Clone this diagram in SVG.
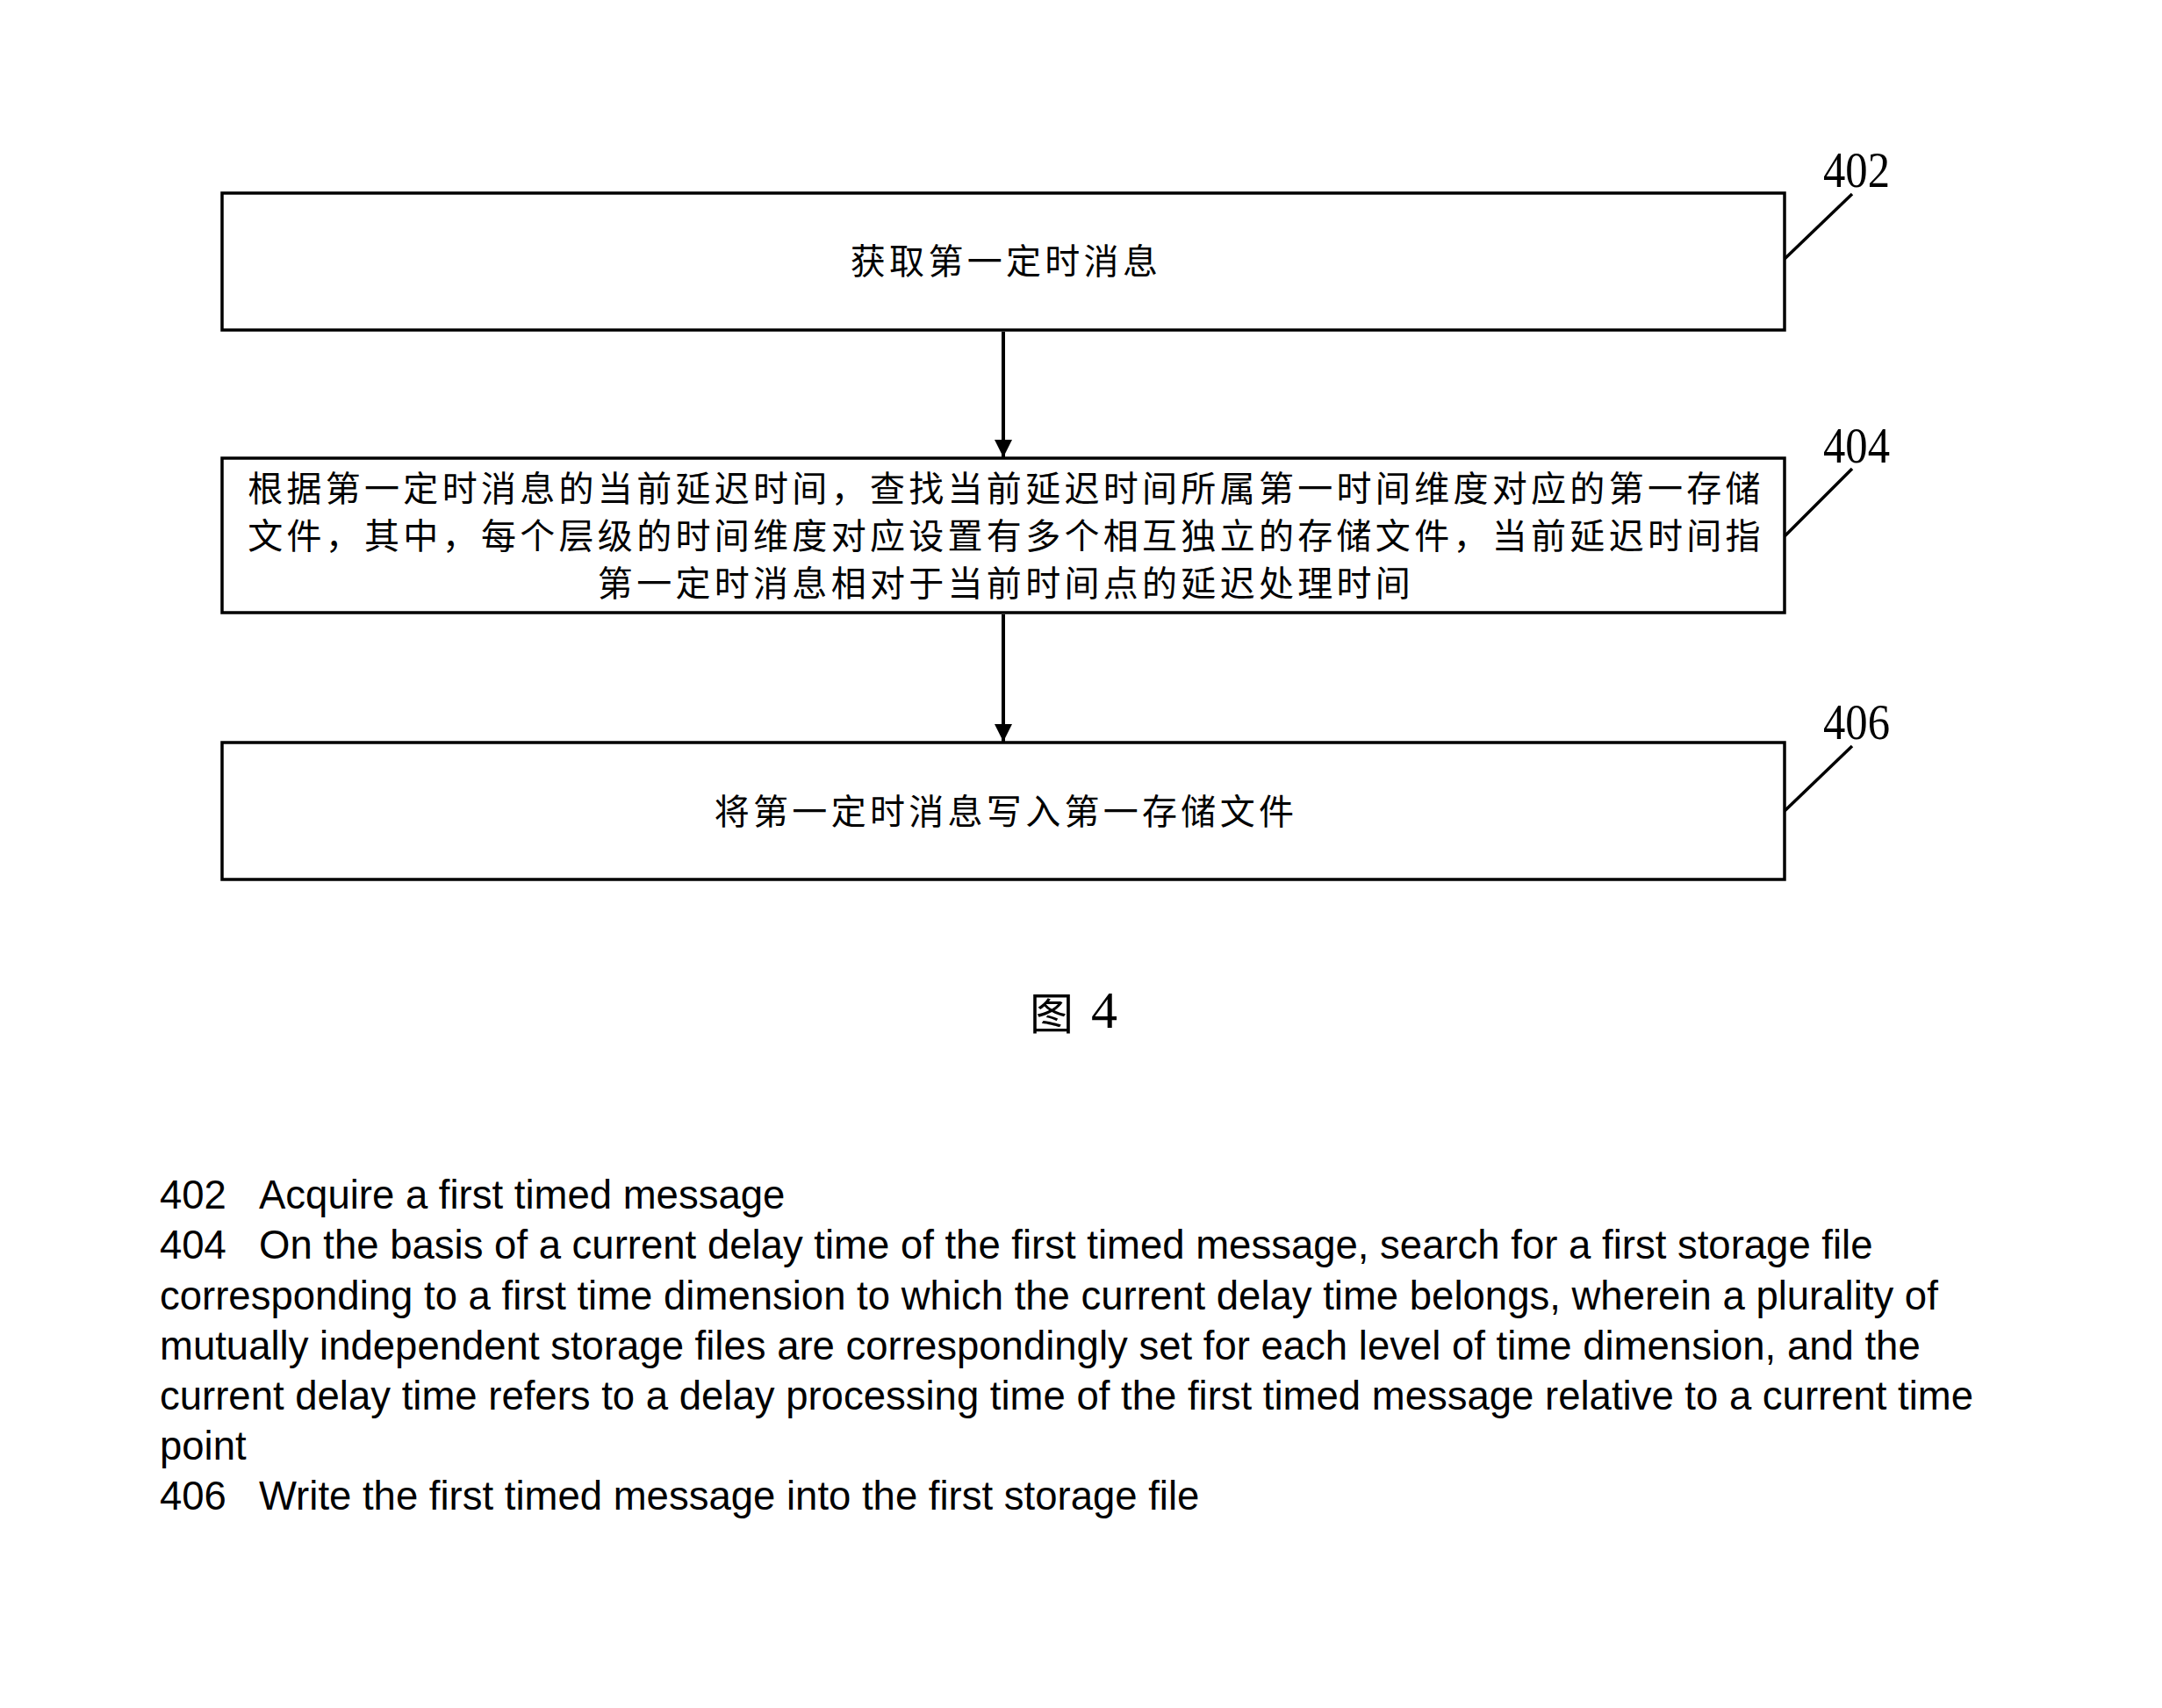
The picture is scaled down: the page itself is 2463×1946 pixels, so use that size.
<svg xmlns="http://www.w3.org/2000/svg" width="2463" height="1946" viewBox="0 0 2463 1946">
<defs>
<style>
.box{fill:#fff;stroke:#000;stroke-width:3.5}
.cjk{font-family:"Noto Sans CJK SC","Noto Sans CJK JP",sans-serif;font-size:40px;letter-spacing:4.3px;text-anchor:middle;dominant-baseline:central;fill:#000}
.lbl{font-family:"Liberation Serif","Times New Roman",serif;font-size:56px;fill:#000}
.lead{stroke:#000;stroke-width:3.5;fill:none}
.conn{stroke:#000;stroke-width:4;fill:none}
.en{font-family:"Liberation Sans",Arial,sans-serif;font-size:45.5px;fill:#000}
</style>
<marker id="arr" markerUnits="userSpaceOnUse" markerWidth="22" markerHeight="22" viewBox="0 0 22 22" refX="20" refY="11" orient="auto">
<path d="M0,1 L20,11 L0,21 Z" fill="#000"/>
</marker>
</defs>
<rect width="2463" height="1946" fill="#fff"/>

<g id="node-402">
<rect class="box" x="253" y="220" width="1780" height="156"/>
<text class="cjk" x="1146" y="295">获取第一定时消息</text>
<line class="lead" x1="2033" y1="295" x2="2110" y2="221"/>
<text class="lbl" x="2077" y="213" textLength="76" lengthAdjust="spacingAndGlyphs">402</text>
</g>

<g id="node-404">
<rect class="box" x="253" y="522" width="1780" height="176"/>
<text class="cjk" x="1146" y="554">根据第一定时消息的当前延迟时间，查找当前延迟时间所属第一时间维度对应的第一存储</text>
<text class="cjk" x="1146" y="608">文件，其中，每个层级的时间维度对应设置有多个相互独立的存储文件，当前延迟时间指</text>
<text class="cjk" x="1146" y="662">第一定时消息相对于当前时间点的延迟处理时间</text>
<line class="lead" x1="2033" y1="611" x2="2110" y2="534"/>
<text class="lbl" x="2077" y="527" textLength="76" lengthAdjust="spacingAndGlyphs">404</text>
</g>

<g id="node-406">
<rect class="box" x="253" y="846" width="1780" height="156"/>
<text class="cjk" x="1146" y="922">将第一定时消息写入第一存储文件</text>
<line class="lead" x1="2033" y1="924" x2="2110" y2="850"/>
<text class="lbl" x="2077" y="842" textLength="76" lengthAdjust="spacingAndGlyphs">406</text>
</g>

<g id="connectors">
<line class="conn" x1="1143" y1="378" x2="1143" y2="521" marker-end="url(#arr)"/>
<line class="conn" x1="1143" y1="700" x2="1143" y2="845" marker-end="url(#arr)"/>
</g>

<g id="caption">
<text x="1173" y="1151" font-family="Noto Sans CJK SC, sans-serif" font-size="50" dominant-baseline="central">图</text>
<text x="1243" y="1171" font-family="Liberation Serif, serif" font-size="60">4</text>
</g>

<g id="legend" class="en">
<text x="182" y="1377">402</text><text x="295" y="1377">Acquire a first timed message</text>
<text x="182" y="1434">404</text><text x="295" y="1434">On the basis of a current delay time of the first timed message, search for a first storage file</text>
<text x="182" y="1491.5">corresponding to a first time dimension to which the current delay time belongs, wherein a plurality of</text>
<text x="182" y="1549">mutually independent storage files are correspondingly set for each level of time dimension, and the</text>
<text x="182" y="1606">current delay time refers to a delay processing time of the first timed message relative to a current time</text>
<text x="182" y="1663">point</text>
<text x="182" y="1720">406</text><text x="295" y="1720">Write the first timed message into the first storage file</text>
</g>
</svg>
